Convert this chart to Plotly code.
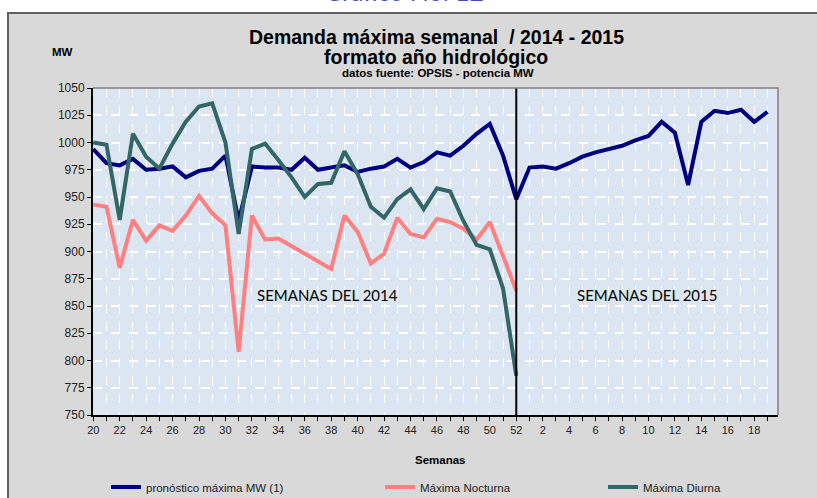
import plotly.graph_objects as go

# Semanas del año hidrológico: 20..52 de 2014 y 1..19 de 2015
weeks = [str(w) for w in range(20, 53)] + [str(w) for w in range(1, 20)]

pronostico = [994, 981, 979, 985, 975, 976, 978, 968, 974, 976, 988, 928, 978, 977, 977, 975,
              986, 975, 977, 979, 973, 976, 978, 985, 977, 982, 991, 988, 997, 1008, 1017, 988, 948,
              977, 978, 976, 981, 987, 991, 994, 997, 1002, 1006, 1019, 1009, 961, 1019, 1029,
              1027, 1030, 1019, 1028]

nocturna = [943, 941, 885, 929, 910, 924, 919, 933, 951, 935, 924, 808, 933, 911, 912, 905,
            898, 890, 884, 933, 918, 889, 898, 931, 916, 913, 930, 927, 921, 911, 927, 896, 864]

diurna = [1000, 998, 929, 1008, 987, 976, 999, 1019, 1033, 1036, 1000, 916, 994, 999, 984, 968,
          950, 962, 963, 992, 971, 941, 931, 948, 957, 939, 958, 955, 928, 906, 902, 866, 786]

x_all = list(range(len(weeks)))
tick_text = [w if i % 2 == 0 else "" for i, w in enumerate(weeks)]

PLOT_BG = "#dce6f2"
FRAME_BG = "#d9d9d9"
FONT = "Liberation Sans"

W, H = 817, 498
L, R, T, B = 93, 39, 88, 83
pw, ph = W - L - R, H - T - B


def px_x(p):
    # pixel -> coordenada paper
    return (p - L) / pw


def px_y(p):
    return (H - B - p) / ph


fig = go.Figure()
fig.add_trace(go.Scatter(x=x_all, y=pronostico, mode="lines", name="pronóstico máxima MW (1)",
                         line=dict(color="#000080", width=4), legend="legend"))
fig.add_trace(go.Scatter(x=x_all[:len(nocturna)], y=nocturna, mode="lines", name="Máxima Nocturna",
                         line=dict(color="#ff8080", width=4), legend="legend2"))
fig.add_trace(go.Scatter(x=x_all[:len(diurna)], y=diurna, mode="lines", name="Máxima Diurna",
                         line=dict(color="#336666", width=4), legend="legend3"))

# linea vertical que separa 2014 de 2015
split = weeks.index("52")
fig.add_shape(type="line", xref="x", yref="paper", x0=split, x1=split, y0=0, y1=1,
              line=dict(color="black", width=2))

# marco exterior gris con franjas blancas arriba / izquierda
for x0, x1, y0, y1 in [(0, W, 0, 12), (0, 7, 0, H)]:
    fig.add_shape(type="rect", xref="paper", yref="paper", layer="below",
                  x0=px_x(x0), x1=px_x(x1), y0=px_y(y1), y1=px_y(y0),
                  fillcolor="white", line=dict(width=0))
fig.add_shape(type="path", xref="paper", yref="paper",
              path=f"M {px_x(8)} {px_y(H + 5)} L {px_x(8)} {px_y(13)} L {px_x(W + 5)} {px_y(13)}",
              line=dict(color="#606060", width=2))
# borde superior / derecho del area de trazado
fig.add_shape(type="path", xref="paper", yref="paper",
              path="M 0 1 L 1 1 L 1 0", line=dict(color="#808080", width=1.5))


def label(text, x, y, size, family=FONT, color="black", yanchor="middle"):
    fig.add_annotation(text=text, xref="paper", yref="paper", x=px_x(x), y=px_y(y),
                       xanchor="center", yanchor=yanchor, showarrow=False,
                       font=dict(family=family, size=size, color=color))


label("Gráfico No. 12", 404, 8.5, 25, family="Lato", color="#3d4fbf", yanchor="bottom")
label("<b>Demanda máxima semanal  / 2014 - 2015</b>", 436, 37, 19.5)
label("<b>formato año hidrológico</b>", 436, 57, 19.5)
label("<b>datos fuente: OPSIS - potencia MW</b>", 438, 73, 11.5)
label("<b>MW</b>", 62, 52, 11.5)
label("<b>Semanas</b>", 441, 460, 11.5)
label("SEMANAS DEL 2014", 327, 295, 15, family="Lato")
label("SEMANAS DEL 2015", 647, 295, 15, family="Lato")

legend_style = dict(orientation="h", xref="container", yref="container",
                    yanchor="middle", xanchor="left", y=1 - 487 / H,
                    bgcolor="rgba(0,0,0,0)", itemwidth=30,
                    font=dict(family=FONT, size=11.5, color="#222222"))

fig.update_layout(
    width=W, height=H,
    margin=dict(l=L, r=R, t=T, b=B, pad=0),
    paper_bgcolor=FRAME_BG,
    plot_bgcolor=PLOT_BG,
    showlegend=True,
    legend=dict(x=106 / W, **legend_style),
    legend2=dict(x=380 / W, **legend_style),
    legend3=dict(x=603 / W, **legend_style),
    xaxis=dict(
        range=[-0.02, 51.8], tickmode="array", tickvals=x_all, ticktext=tick_text,
        showgrid=True, gridcolor="white", griddash="dash", gridwidth=1,
        showline=True, linecolor="black", linewidth=2,
        ticks="outside", ticklen=4, tickcolor="black", tickwidth=1,
        tickfont=dict(family=FONT, size=11, color="#222222"), zeroline=False,
        automargin=False,
    ),
    yaxis=dict(
        range=[750, 1050], dtick=25, tick0=750,
        showgrid=True, gridcolor="white", griddash="dash", gridwidth=1.5,
        showline=True, linecolor="black", linewidth=2,
        ticks="outside", ticklen=4, tickcolor="black", tickwidth=1,
        tickfont=dict(family=FONT, size=12, color="#222222"), zeroline=False,
        automargin=False,
    ),
)

# quitar el margen por defecto del <body> para que la figura empiece en (0, 0)
fig.write_html("out.html", config={"displayModeBar": False},
               post_script="document.body.style.margin='0';")
